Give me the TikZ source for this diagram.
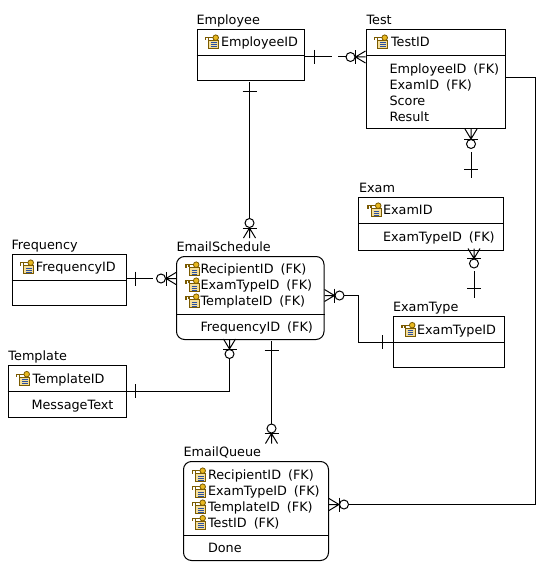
\documentclass[tikz,border=0pt]{standalone}
\usepackage{fontspec}
\setmainfont[WordSpace=1.7]{DejaVu Sans}
\definecolor{keygold}{HTML}{E8B820}
\definecolor{keyedge}{HTML}{7A5A00}
\definecolor{rowblue}{HTML}{2A4FA0}
\tikzset{
  entity/.style 2 args={draw, anchor=north west, inner sep=0pt, minimum width=0.75*#1 pt, minimum height=0.75*#2 pt},
  rounded/.style={rounded corners=6pt},
  field/.style={anchor=west, inner sep=0pt, font=\fontsize{9.6}{11}\selectfont, text height=7pt, text depth=0pt},
  keyicon/.pic={
    \filldraw[draw=keyedge, fill=keygold!45!white, line width=.6pt] (-2.5,-1.5) rectangle (7.5,6.5);
    \draw[rowblue, line width=.75pt] (0,1) -- (5.5,1) (0,3) -- (5.5,3) (0,5) -- (5.5,5);
    \filldraw[draw=keyedge, fill=keygold, line width=.6pt] (4.7,-4.3) circle (2.8);
    \draw[keyedge, line width=1pt] (2,-4.3) -- (-5.5,-4.3) -- (-5.5,-1.5) (-2.5,-4.3) -- (-2.5,-2);
  },
  onebar/.pic={\draw (0,-7) -- (0,7);},
  crowzero/.pic={
    \draw (0,-6) -- (10,0) (0,0) -- (10,0) (0,6) -- (10,0);
    \draw (10,-7) -- (10,7);
    \draw (15,0) circle (4.5);
  }
}
\begin{document}
\begin{tikzpicture}[x=0.75pt, y=-0.75pt, line width=0.75pt]
\useasboundingbox (0,0) rectangle (543,567);

% tables
\node[entity={107}{51}] (Employee) at (196.5,29) {};
\node[entity={139.5}{99}] (Test) at (365.5,29) {};
\node[entity={114.5}{51}] (Frequency) at (11.5,254) {};
\node[entity={147.5}{83},rounded] (EmailSchedule) at (176,256) {};
\node[entity={118}{51.5}] (Template) at (7.5,365) {};
\node[entity={145}{53}] (Exam) at (358,197) {};
\node[entity={111.5}{51}] (ExamType) at (392.5,316) {};
\node[entity={145}{99},rounded] (EmailQueue) at (183,461) {};

% dividers
\draw (Employee.west |- 0,55.5) -- (Employee.east |- 0,55.5);
\draw (Test.west |- 0,55.5) -- (Test.east |- 0,55.5);
\draw (Frequency.west |- 0,280) -- (Frequency.east |- 0,280);
\draw (EmailSchedule.west |- 0,314) -- (EmailSchedule.east |- 0,314);
\draw (Template.west |- 0,391) -- (Template.east |- 0,391);
\draw (Exam.west |- 0,223) -- (Exam.east |- 0,223);
\draw (ExamType.west |- 0,342) -- (ExamType.east |- 0,342);
\draw (EmailQueue.west |- 0,535) -- (EmailQueue.east |- 0,535);

% titles
\node[field] (EmployeeName) at (196,19.5) {Employee};
\node[field] (TestName) at (366,19.5) {Test};
\node[field] (FrequencyName) at (11,245) {Frequency};
\node[field] (EmailScheduleName) at (176,246.5) {EmailSchedule};
\node[field] (TemplateName) at (8,355.5) {Template};
\node[field] (ExamName) at (358.5,187.5) {Exam};
\node[field] (ExamTypeName) at (392.5,307) {ExamType};
\node[field] (EmailQueueName) at (183,451.5) {EmailQueue};

% fields
\node[field] (f1) at (220.5,42) {EmployeeID};
\node[field] (f2) at (390.5,42) {TestID};
\node[field] (f3) at (389,69) {EmployeeID (FK)};
\node[field] (f4) at (389,85) {ExamID (FK)};
\node[field] (f5) at (389,100.5) {Score};
\node[field] (f6) at (389,116.5) {Result};
\node[field] (f7) at (35.5,267) {FrequencyID};
\node[field] (f8) at (200,269) {RecipientID (FK)};
\node[field] (f9) at (200,285) {ExamTypeID (FK)};
\node[field] (f10) at (200,301) {TemplateID (FK)};
\node[field] (f11) at (200,327) {FrequencyID (FK)};
\node[field] (f12) at (32,378.5) {TemplateID};
\node[field] (f13) at (31,404.5) {MessageText};
\node[field] (f14) at (382.5,210) {ExamID};
\node[field] (f15) at (382.5,236.5) {ExamTypeID (FK)};
\node[field] (f16) at (416.5,329.5) {ExamTypeID};
\node[field] (f17) at (207.5,475) {RecipientID (FK)};
\node[field] (f18) at (207.5,491) {ExamTypeID (FK)};
\node[field] (f19) at (207.5,507) {TemplateID (FK)};
\node[field] (f20) at (207.5,522.5) {TestID (FK)};
\node[field] (f21) at (207.5,548) {Done};

% keys
\pic at (211,42) {keyicon};
\pic at (380,42) {keyicon};
\pic at (26,267) {keyicon};
\pic at (191.5,269) {keyicon};
\pic at (191.5,285) {keyicon};
\pic at (191.5,301) {keyicon};
\pic at (22,378.5) {keyicon};
\pic at (373.5,210) {keyicon};
\pic at (407.5,329.5) {keyicon};
\pic at (198,475) {keyicon};
\pic at (198,491) {keyicon};
\pic at (198,507) {keyicon};
\pic at (198,522.5) {keyicon};

% Employee - Test
\coordinate (a1) at (332,57);
\coordinate (a2) at (338,57);
\draw (Employee.east |- a1) -- (a1);
\draw (a2) -- (345.5,57);
\pic at (314.5,57) {onebar};
\pic[rotate=180] at (Test.west |- a1) {crowzero};

% Employee - EmailSchedule
\coordinate (b1) at (249.5,82);
\coordinate (b2) at (249.5,238);
\draw (b1) -- (249.5,218.5);
\pic[rotate=90] at (249.5,91) {onebar};
\pic[rotate=90] at (b2) {crowzero};

% Test - Exam
\coordinate (c1) at (471,129);
\coordinate (c2) at (471,152);
\coordinate (c3) at (471,178);
\draw (c2) -- (c3);
\pic[rotate=-90] at (c1) {crowzero};
\pic[rotate=90] at (471,169) {onebar};

% Test - EmailQueue
\coordinate (d1) at (535,77.5);
\coordinate (d2) at (535,504.5);
\coordinate (d3) at (EmailQueue.east |- d2);
\draw (Test.east |- d1) -- (d1) -- (d2) -- (348.5,504.5);
\pic[rotate=90] at (515,77.5) {onebar};
\pic at (d3) {crowzero};

% Frequency - EmailSchedule
\coordinate (e1) at (152.5,278.5);
\draw (Frequency.east |- e1) -- (e1);
\pic at (135.5,278.5) {onebar};
\pic[rotate=180] at (EmailSchedule.west |- e1) {crowzero};

% Template - EmailSchedule
\coordinate (g1) at (229.5,391);
\draw (Template.east |- g1) -- (g1) -- (229.5,359);
\pic at (135.5,391) {onebar};
\pic[rotate=-90] at (229.5,339) {crowzero};

% EmailSchedule - EmailQueue
\draw (271.5,341) -- (271.5,423.5);
\pic[rotate=90] at (271.5,350) {onebar};
\pic[rotate=90] at (271.5,443.5) {crowzero};

% EmailSchedule - ExamType
\coordinate (h1) at (358.5,295.5);
\coordinate (h2) at (358.5,342);
\draw (343.5,295.5) -- (h1) -- (h2) -- (ExamType.west |- h2);
\pic at (EmailSchedule.east |- h1) {crowzero};
\pic at (382.5,342) {onebar};

% Exam - ExamType
\coordinate (i1) at (474,271);
\coordinate (i2) at (474,297.5);
\draw (i1) -- (i2);
\pic[rotate=-90] at (474,248.5) {crowzero};
\pic[rotate=90] at (474,288) {onebar};
\end{tikzpicture}
\end{document}
